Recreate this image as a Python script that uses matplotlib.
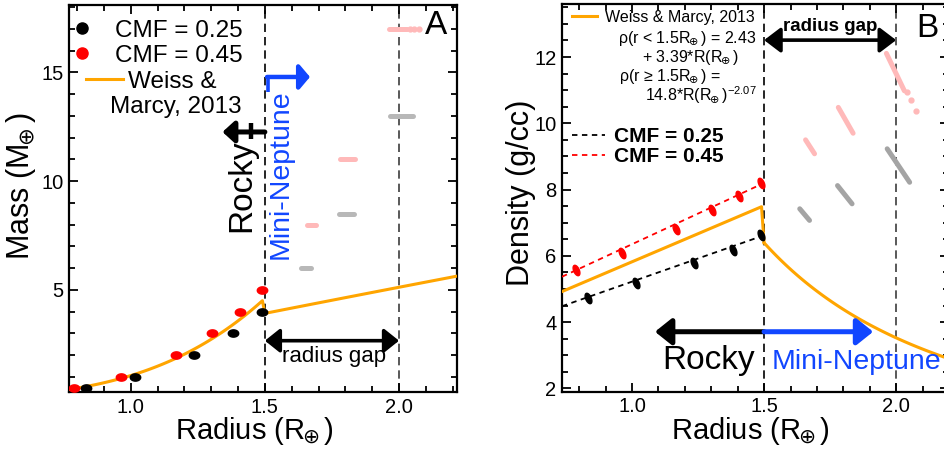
import numpy as np
import matplotlib
matplotlib.use('Agg')
import matplotlib.pyplot as plt
from matplotlib.path import Path
from matplotlib.lines import Line2D
from matplotlib.ticker import MultipleLocator, FixedLocator, FormatStrFormatter

plt.rcParams['font.family'] = ['Liberation Sans', 'DejaVu Sans']
plt.rcParams['mathtext.fontset'] = 'dejavusans'

# rocky planets, two core mass fractions
cmf25_radius = [0.833, 1.016, 1.236, 1.382, 1.49]
cmf25_mass = [0.5, 1.0, 2.0, 3.0, 4.0]
cmf25_density = [4.73, 5.18, 5.77, 6.19, 6.62]

cmf45_radius = [0.787, 0.964, 1.168, 1.304, 1.406, 1.49]
cmf45_mass = [0.5, 1.0, 2.0, 3.0, 4.0, 5.0]
cmf45_density = [5.56, 6.10, 6.82, 7.37, 7.82, 8.19]

# straight fits through the rocky densities
fit_radius = [0.735, 1.5]
cmf25_fit = [4.48, 6.62]
cmf45_fit = [5.37, 8.20]

# planets beyond 1.5 Re: mass and radius range of each streak
gray_mass = [6.0, 8.5, 13.0]
gray_r_lo = [1.635, 1.778, 1.966]
gray_r_hi = [1.672, 1.833, 2.051]
gray_rho_hi = [7.42, 8.12, 9.23]
gray_rho_lo = [7.07, 7.57, 8.22]

pink_mass = [8.0, 11.0, 17.0]
pink_r_lo = [1.657, 1.781, 1.963]
pink_r_hi = [1.691, 1.837, 2.031]
pink_rho_hi = [9.50, 10.48, 12.11]
pink_rho_lo = [9.08, 9.70, 10.98]
# loose samples at the end of the heaviest streak
pink_tail_r = [2.040, 2.055, 2.075]
pink_tail_rho = [10.95, 10.70, 10.38]

# Weiss & Marcy 2013 density relation
EARTH_DENSITY = 5.51
wm_a, wm_b = 2.43, 3.39
wm_c, wm_p = 14.8, -2.07
r_split = 1.5
gap_lo, gap_hi = 1.5, 2.0

ORANGE = '#ffa500'
BLUE = '#1146ff'
PINK = '#ffb9b9'
GRAY_A = '#b8b8b8'
GRAY_B = '#a4a4a4'

EARTH = r'$_{\!\!\oplus}$'


def ellipse(a, b, angle):
    t = np.linspace(0, 2 * np.pi, 48)
    x, y = a * np.cos(t), b * np.sin(t)
    c, s = np.cos(np.radians(angle)), np.sin(np.radians(angle))
    return Path(np.column_stack([c * x - s * y, s * x + c * y]), closed=True)


def wm_density(r):
    r = np.asarray(r)
    return np.where(r < r_split, wm_a + wm_b * r, wm_c * r ** wm_p)


def style_axes(ax, ymajor, yminor, fmt):
    ax.xaxis.set_major_locator(FixedLocator([1.0, 1.5, 2.0]))
    ax.xaxis.set_minor_locator(MultipleLocator(0.1))
    ax.xaxis.set_major_formatter(FormatStrFormatter('%.1f'))
    ax.yaxis.set_major_locator(MultipleLocator(ymajor))
    ax.yaxis.set_minor_locator(MultipleLocator(yminor))
    ax.yaxis.set_major_formatter(FormatStrFormatter(fmt))
    ax.tick_params(which='both', direction='in', top=True, right=True,
                   width=1.3, labelsize=14.5, pad=4)
    ax.tick_params(which='major', length=6.5)
    ax.tick_params(which='minor', length=4.5)
    for sp in ax.spines.values():
        sp.set_linewidth(1.6)
    ax.axvline(gap_lo, color='k', lw=1.2, ls=(0, (5, 3)), zorder=1)
    ax.axvline(gap_hi, color='#3c3c3c', lw=1.2, ls=(0, (5, 3)), zorder=1)


def arrow(ax, tail, tip, color, lw, hl, hw, style='-|>'):
    ax.annotate('', xy=tip, xytext=tail,
                arrowprops=dict(arrowstyle=f'{style},head_length={hl},head_width={hw}',
                                color=color, lw=lw, shrinkA=0, shrinkB=0,
                                mutation_scale=20))


fig = plt.figure(figsize=(9.44, 4.49), dpi=100)
axA = fig.add_axes([69 / 944, 57 / 449, 388 / 944, 387 / 449])
axB = fig.add_axes([562 / 944, 57.3 / 449, 387 / 944, 387.7 / 449])

# ---------------- A: mass vs radius ----------------
axA.set_xlim(0.77, 2.216)
axA.set_ylim(0.3, 18.1)
style_axes(axA, 5, 1, '%d')

r_in = np.linspace(0.77, r_split, 80)
r_out = np.linspace(r_split, 2.216, 60)
axA.plot(r_in, wm_density(r_in) * r_in ** 3 / EARTH_DENSITY, color=ORANGE, lw=2.2, zorder=3)
axA.plot(r_out, wm_c * r_out ** (wm_p + 3) / EARTH_DENSITY, color=ORANGE, lw=2.2, zorder=3)

oval_a = ellipse(1.0, 0.7, 0)
axA.plot(cmf25_radius, cmf25_mass, ls='none', marker=oval_a, ms=7.5, color='k', zorder=4)
axA.plot(cmf45_radius, cmf45_mass, ls='none', marker=oval_a, ms=7.5, color='#ff0000', zorder=4)

for m, lo, hi in zip(gray_mass, gray_r_lo, gray_r_hi):
    axA.plot([lo, hi], [m, m], color=GRAY_A, lw=3.6, solid_capstyle='round', zorder=2)
for m, lo, hi in zip(pink_mass, pink_r_lo, pink_r_hi):
    axA.plot([lo, hi], [m, m], color=PINK, lw=3.6, solid_capstyle='round', zorder=2)
axA.plot(pink_tail_r, [pink_mass[-1]] * len(pink_tail_r), ls='none', marker='o',
         ms=3.5, color=PINK, zorder=2)

# legend
leg1 = axA.legend(handles=[Line2D([], [], ls='none', marker='o', ms=8, color='k'),
                           Line2D([], [], ls='none', marker='o', ms=8, color='#ff0000')],
                  labels=['CMF = 0.25', 'CMF = 0.45'], loc='upper left',
                  bbox_to_anchor=(0.003, 0.962), frameon=False, fontsize=17.5,
                  handlelength=1.0, handletextpad=0.86, labelspacing=0.12,
                  borderpad=0, borderaxespad=0)
axA.add_artist(leg1)
axA.legend(handles=[Line2D([], [], color=ORANGE, lw=2.2)], labels=['Weiss &'],
           loc='upper left', bbox_to_anchor=(0.044, 0.830), frameon=False,
           fontsize=17.5, handlelength=1.52, handletextpad=0.2, borderpad=0,
           borderaxespad=0)
axA.text(0.106, 0.737, 'Marcy, 2013', transform=axA.transAxes, fontsize=17.5,
         ha='left', va='center')

axA.text(2.138, 17.18, 'A', fontsize=24, ha='center', va='center')

# rocky / mini-neptune labels
axA.text(1.415, 9.78, 'Rocky', fontsize=24, rotation=90, ha='center', va='center')
axA.text(1.56, 10.33, 'Mini-Neptune', fontsize=20.5, rotation=90, color=BLUE,
         ha='center', va='center')
arrow(axA, (1.5, 12.26), (1.342, 12.26), 'k', 3.6, 0.35, 0.32)
axA.plot([1.45, 1.45], [11.95, 12.65], color='k', lw=3.2, solid_capstyle='butt')
arrow(axA, (1.508, 14.79), (1.668, 14.79), BLUE, 3.2, 0.32, 0.38)
axA.plot([1.51, 1.51], [14.1, 14.9], color=BLUE, lw=2.6, solid_capstyle='butt')

# radius gap
arrow(axA, (gap_lo, 2.66), (gap_hi, 2.66), 'k', 2.6, 0.45, 0.36, style='<|-|>')
axA.text(1.758, 1.95, 'radius gap', fontsize=16, ha='center', va='center')

axA.set_xlabel('Radius (R' + EARTH + ')', fontsize=21)
axA.xaxis.set_label_coords(0.477, -0.06)
axA.set_ylabel('Mass (M' + EARTH + ')', fontsize=22)
axA.yaxis.set_label_coords(-0.08, 0.532)

# ---------------- B: density vs radius ----------------
axB.set_xlim(0.735, 2.2)
axB.set_ylim(1.9, 13.6)
style_axes(axB, 2, 0.5, '%d')

r_in = np.linspace(0.735, r_split, 80)
r_out = np.linspace(r_split, 2.2, 60)
axB.plot(r_in, wm_density(r_in), color=ORANGE, lw=2.2, zorder=3)
axB.plot(r_out, wm_density(r_out), color=ORANGE, lw=2.2, zorder=3)

axB.plot(fit_radius, cmf25_fit, color='k', lw=1.3, ls=(0, (3, 2.5)), zorder=3)
axB.plot(fit_radius, cmf45_fit, color='#ff0000', lw=1.3, ls=(0, (3, 2.5)), zorder=3)

oval_b = ellipse(1.0, 0.5, -66)
axB.plot(cmf25_radius, cmf25_density, ls='none', marker=oval_b, ms=7.5, color='k', zorder=4)
axB.plot(cmf45_radius, cmf45_density, ls='none', marker=oval_b, ms=7.5, color='#ff0000', zorder=4)

for lo, hi, top, bot in zip(gray_r_lo, gray_r_hi, gray_rho_hi, gray_rho_lo):
    axB.plot([lo, hi], [top, bot], color=GRAY_B, lw=3.6, solid_capstyle='round', zorder=2)
for lo, hi, top, bot in zip(pink_r_lo, pink_r_hi, pink_rho_hi, pink_rho_lo):
    axB.plot([lo, hi], [top, bot], color=PINK, lw=3.6, solid_capstyle='round', zorder=2)
axB.plot(pink_tail_r, pink_tail_rho, ls='none', marker='o', ms=3.5, color=PINK, zorder=2)

legB = axB.legend(handles=[Line2D([], [], color=ORANGE, lw=2.2)],
                  labels=['Weiss & Marcy, 2013'], loc='upper left',
                  bbox_to_anchor=(0.025, 0.9845), frameon=False, fontsize=11.5,
                  handlelength=1.56, handletextpad=0.52, borderpad=0, borderaxespad=0)
axB.add_artist(legB)
axB.legend(handles=[Line2D([], [], color='k', lw=1.3, ls=(0, (3, 2.5))),
                    Line2D([], [], color='#ff0000', lw=1.3, ls=(0, (3, 2.5)))],
           labels=['CMF = 0.25', 'CMF = 0.45'], loc='upper left',
           bbox_to_anchor=(0.025, 0.682), frameon=False,
           prop=dict(size=15, weight='bold'), handlelength=1.6,
           handletextpad=0.43, labelspacing=0.04, borderpad=0, borderaxespad=0)

axB.text(1.472, 12.43, 'ρ(r < 1.5R' + EARTH + ') = 2.43', fontsize=11.5, ha='right', va='baseline')
axB.text(1.219, 11.86, '+ 3.39*R(R' + EARTH + ')', fontsize=11.5, ha='center', va='baseline')
axB.text(1.146, 11.29, 'ρ(r ≥ 1.5R' + EARTH + ') =', fontsize=11.5, ha='center', va='baseline')
axB.text(1.472, 10.66, '14.8*R(R' + EARTH + r')$^{\mathregular{-2.07}}$', fontsize=11.5,
         ha='right', va='baseline')

arrow(axB, (gap_lo, 12.51), (gap_hi, 12.51), 'k', 2.6, 0.5, 0.38, style='<|-|>')
axB.text(1.751, 12.91, 'radius gap', fontsize=13.5, fontweight='bold', ha='center', va='center')
axB.text(2.077, 12.85, 'B', fontsize=24, ha='left', va='center')

arrow(axB, (r_split, 3.71), (1.087, 3.71), 'k', 3.6, 0.5, 0.4)
arrow(axB, (r_split, 3.71), (1.913, 3.71), BLUE, 3.6, 0.5, 0.4)
axB.text(1.289, 2.85, 'Rocky', fontsize=24, ha='center', va='center')
axB.text(1.528, 2.80, 'Mini-Neptune', fontsize=20.5, color=BLUE, ha='left', va='center')

axB.set_xlabel('Radius (R' + EARTH + ')', fontsize=21)
axB.xaxis.set_label_coords(0.488, -0.06)
axB.set_ylabel('Density (g/cc)', fontsize=22)
axB.yaxis.set_label_coords(-0.067, 0.512)

fig.savefig('out.png', dpi=100)
